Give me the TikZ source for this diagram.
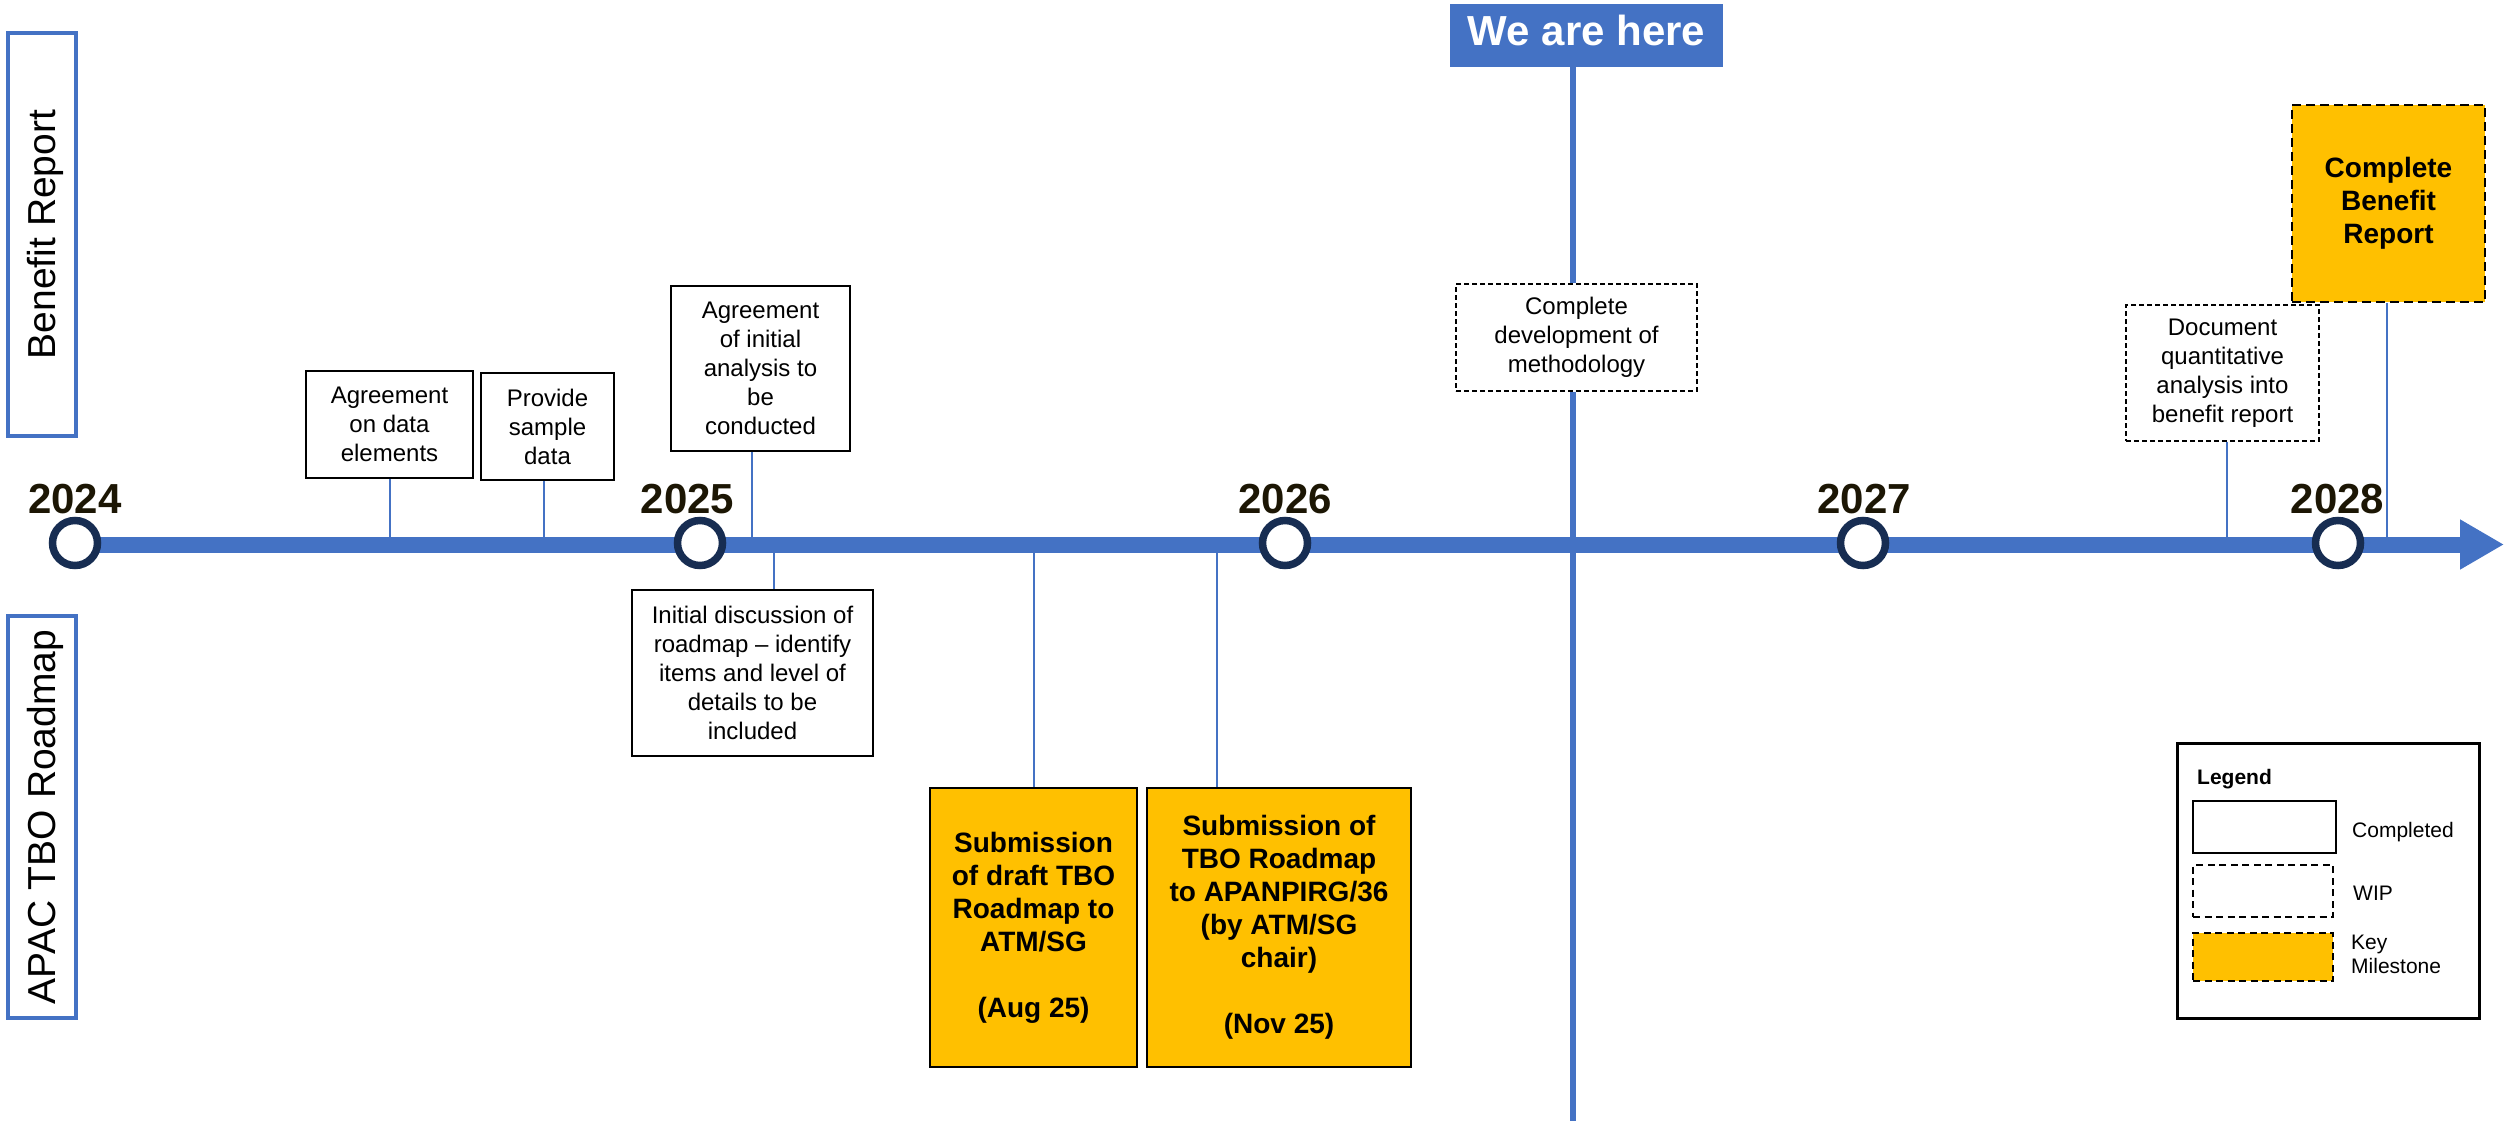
\documentclass[tikz,border=0pt]{standalone}
\usepackage{fontspec}
\setmainfont{Liberation Sans}
\usetikzlibrary{arrows.meta,calc}
\definecolor{tlblue}{RGB}{68,114,196}
\definecolor{navy}{RGB}{23,45,82}
\definecolor{msyellow}{RGB}{255,192,0}
\definecolor{yeartext}{RGB}{28,22,4}
\begin{document}
\begin{tikzpicture}[x=1pt,y=-1pt,
  smallfont/.style={font=\fontsize{24}{29}\selectfont},
  donebox/.style={draw=black, line width=2pt, fill=white, align=center, inner sep=0pt, smallfont},
  wipbox/.style={draw=black, line width=1.8pt, dash pattern=on 5pt off 3pt, fill=white, align=center, inner sep=0pt, smallfont},
  msbox/.style={draw=black, line width=2pt, fill=msyellow, align=center, inner sep=0pt, font=\bfseries\fontsize{28}{33}\selectfont},
  msdash/.style={msbox, line width=2.8pt, dash pattern=on 9pt off 5pt},
  conn/.style={draw=tlblue, line width=2pt},
  vline/.style={draw=tlblue, line width=6pt},
  yearnode/.style={font=\bfseries\fontsize{42}{48}\selectfont, text=yeartext, anchor=base, inner sep=0pt},
  yearmark/.style={circle, draw=navy, line width=7.5pt, fill=white, minimum size=45pt, inner sep=0pt},
  lanebox/.style={draw=tlblue, line width=3.5pt, minimum width=68pt, inner sep=0pt},
  lanetext/.style={rotate=90, font=\fontsize{39}{45}\selectfont, inner sep=0pt},
  legtext/.style={font=\fontsize{21}{24}\selectfont, inner sep=0pt},
]
\useasboundingbox (0,0) rectangle (2504,1121);

% lane labels
\node[lanebox, minimum height=403pt, minimum width=68pt] (laneA) at (42,234.5) {};
\node[lanetext] (laneAt) at (45,234.5) {Benefit Report};
\node[lanebox, minimum height=402pt, minimum width=68pt] (laneB) at (42,817) {};
\node[lanetext] (laneBt) at (45,817) {APAC TBO Roadmap};

% timeline coordinates
\coordinate (tl) at (75,544.5);
\coordinate (tlend) at (2504,544.5);

% activity boxes
\node[donebox, minimum width=167pt, minimum height=107pt] (agr1) at (389.5,424.5) {Agreement\\on data\\elements};
\node[donebox, minimum width=133pt, minimum height=107pt] (sample) at (547.5,426.5) {Provide\\sample\\data};
\node[donebox, minimum width=179pt, minimum height=165pt] (agr2) at (760.5,368.5) {Agreement\\of initial\\analysis to\\be\\conducted};
\node[donebox, minimum width=241pt, minimum height=166pt] (disc) at (752.5,673) {Initial discussion of\\roadmap -- identify\\items and level of\\details to be\\included};
\node[msbox, minimum width=207pt, minimum height=279pt] (draft) at (1033.5,927.5) {Submission\\of draft TBO\\Roadmap to\\ATM/SG\\[33pt](Aug 25)};
\node[msbox, minimum width=264pt, minimum height=279pt] (tbo) at (1279,927.5) {Submission of\\TBO Roadmap\\to APANPIRG/36\\(by ATM/SG\\chair)\\[33pt](Nov 25)};
\node[wipbox, minimum width=241pt, minimum height=107pt] (wip1) at (1576.5,337.5) {Complete\\development of\\methodology};
\node[wipbox, minimum width=193pt, minimum height=136pt] (doc) at (2222.5,373) {Document\\quantitative\\analysis into\\benefit report};
\node[msdash, minimum width=193pt, minimum height=197pt] (cbr) at (2388.5,203.5) {Complete\\Benefit\\Report};

% connectors
\path ($(agr1.south)+(0,0)$) coordinate (c1);
\path ($(sample.south)+(-3.5,0)$) coordinate (c2);
\path ($(agr2.south)+(-8.5,0)$) coordinate (c3);
\path ($(disc.north)+(21.5,0)$) coordinate (c4);
\path ($(draft.north)+(0.5,0)$) coordinate (c5);
\path ($(tbo.north)+(-62,0)$) coordinate (c6);
\path ($(doc.south)+(4.5,0)$) coordinate (c7);
\path ($(cbr.south)+(-1.5,0)$) coordinate (c8);
\draw[conn] (c1) -- (c1 |- tl);
\draw[conn] (c2) -- (c2 |- tl);
\draw[conn] (c3) -- (c3 |- tl);
\draw[conn] (c4) -- (c4 |- tl);
\draw[conn] (c5) -- (c5 |- tl);
\draw[conn] (c6) -- (c6 |- tl);
\draw[conn] (c7) -- (c7 |- tl);
\draw[conn] (c8) -- (c8 |- tl);

% timeline
\draw[tlblue, line width=16pt, -{Triangle[length=44pt,width=47pt]}] (tl) -- (tlend);

% we are here
\node[fill=tlblue, minimum width=273pt, minimum height=63pt, inner sep=0pt] (here) at (1586.5,35.5) {};
\node[font=\bfseries\fontsize{42}{48}\selectfont, text=white, inner sep=0pt] (heret) at (1586.5,30.5) {We are here};
\coordinate (vtop) at (1573,67);
\coordinate (vbot) at (1573,1121);
\draw[vline] (vtop) -- (vtop |- wip1.north);
\draw[vline] (vtop |- wip1.south) -- (vbot);

% year markers
\node[yearmark] (m24) at (75,543) {};
\node[yearmark] (m25) at (700,543) {};
\node[yearmark] (m26) at (1285,543) {};
\node[yearmark] (m27) at (1863,543) {};
\node[yearmark] (m28) at (2338,543) {};
\node[yearnode] (y24) at (75,513) {2024};
\node[yearnode] (y25) at (687.5,513) {2025};
\node[yearnode] (y26) at (1285,513) {2026};
\node[yearnode] (y27) at (1864,513) {2027};
\node[yearnode] (y28) at (2337.5,513) {2028};

% legend
\node[draw=black, line width=3pt, minimum width=302pt, minimum height=275pt, inner sep=0pt] (legend) at (2328,880.5) {};
\node[legtext, font=\bfseries\fontsize{21}{24}\selectfont, anchor=base west] (legt) at (2197,784) {Legend};
\node[draw=black, line width=2.5pt, minimum width=143pt, minimum height=52pt, inner sep=0pt] (sw1) at (2264.5,827) {};
\node[draw=black, line width=2.5pt, dash pattern=on 7pt off 4.5pt, minimum width=140pt, minimum height=52pt, inner sep=0pt] (sw2) at (2263,891) {};
\node[draw=black, fill=msyellow, line width=2.5pt, dash pattern=on 7pt off 4.5pt, minimum width=140pt, minimum height=48pt, inner sep=0pt] (sw3) at (2263,957) {};
\node[legtext, anchor=base west] (l1) at (2352,837) {Completed};
\node[legtext, anchor=base west] (l2) at (2353,900) {WIP};
\node[legtext, anchor=west, align=left] (l3) at (2351,954.5) {Key\\Milestone};
\end{tikzpicture}
\end{document}
